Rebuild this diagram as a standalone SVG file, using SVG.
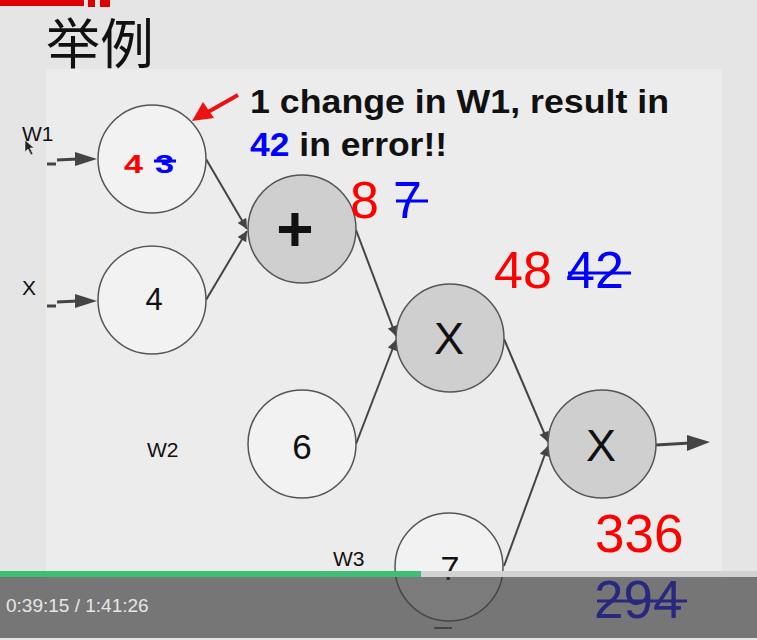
<svg xmlns="http://www.w3.org/2000/svg" width="757" height="640" viewBox="0 0 757 640">
  <defs>
    <style>
      .sans { font-family: "Liberation Sans", Arial, sans-serif; }
      .in { fill: #f2f2f2; stroke: #555; stroke-width: 1.5; }
      .op { fill: #cfcfcf; stroke: #555; stroke-width: 1.5; }
      .edge { stroke: #444; stroke-width: 2; fill: none; marker-end: url(#ah); }
      .lbl { font-family: "Liberation Sans", Arial, sans-serif; font-size: 21px; fill: #111; }
      .red { fill: #ff0000; }
      .blue { fill: #0000ff; }
      .strike { stroke: #0000ff; stroke-width: 3; }
    </style>
    <marker id="ah" viewBox="0 0 10 10" refX="10" refY="5" markerWidth="6" markerHeight="5" markerUnits="strokeWidth" orient="auto">
      <path d="M0,0 L10,5 L0,10 Z" fill="#444"/>
    </marker>
  </defs>

  <!-- background -->
  <rect x="0" y="0" width="757" height="640" fill="#e5e5e5"/>
  <rect x="46" y="69" width="676" height="510" fill="#ececec"/>
  <rect x="0" y="0" width="84" height="6" fill="#dd0000"/>
  <rect x="88" y="0" width="7" height="7" fill="#dd0000"/>
  <rect x="100" y="0" width="10" height="7" fill="#dd0000"/>

  <!-- title -->
  <text x="46" y="64" font-family="'Noto Sans CJK SC', sans-serif" font-size="54" font-weight="400" fill="#111">举例</text>

  <!-- labels -->
  <text class="lbl" x="22" y="141">W1</text>
  <text class="lbl" x="22" y="295">X</text>
  <text class="lbl" x="147" y="457">W2</text>
  <text class="lbl" x="333" y="566">W3</text>

  <!-- input arrows -->
  <g id="in-arrows" fill="#444" stroke="#444">
    <line x1="47" y1="164" x2="56" y2="164" stroke-width="3"/>
    <line x1="57" y1="160" x2="78" y2="159" stroke-width="3"/>
    <polygon points="75,152 97,159 75,166" stroke="none"/>
    <line x1="47" y1="306" x2="56" y2="306" stroke-width="3"/>
    <line x1="57" y1="302" x2="78" y2="301" stroke-width="3"/>
    <polygon points="75,294 97,301 75,308" stroke="none"/>
  </g>

  <!-- connectors -->
  <g id="connectors">
    <line class="edge" x1="206" y1="159" x2="247" y2="229"/>
    <line class="edge" x1="206" y1="300" x2="247" y2="231"/>
    <line class="edge" x1="356" y1="230" x2="396" y2="336"/>
    <line class="edge" x1="356" y1="444" x2="396" y2="340"/>
    <line class="edge" x1="504" y1="339" x2="548" y2="442"/>
    <line class="edge" x1="504" y1="566" x2="548" y2="446"/>
    <line x1="656" y1="445" x2="690" y2="443" stroke="#444" stroke-width="3"/>
    <polygon points="687,435 710,442 687,451" fill="#444"/>
  </g>

  <!-- nodes -->
  <g id="node-w1">
    <circle class="in" cx="152" cy="159" r="54"/>
    <text class="sans red" x="124" y="173" font-size="25" font-weight="bold" textLength="19" lengthAdjust="spacingAndGlyphs">4</text>
    <text class="sans blue" x="155" y="173" font-size="25" font-weight="bold" textLength="19" lengthAdjust="spacingAndGlyphs">3</text>
    <line class="strike" x1="154" y1="161" x2="176" y2="161" stroke-width="2.5"/>
  </g>
  <g id="node-x">
    <circle class="in" cx="152" cy="300" r="54"/>
    <text class="sans" x="154" y="310" font-size="31" text-anchor="middle" fill="#111">4</text>
  </g>
  <g id="node-plus">
    <circle class="op" cx="302" cy="229" r="54"/>
    <text class="sans" x="295" y="251" font-size="64" font-weight="bold" text-anchor="middle" fill="#111">+</text>
  </g>
  <g id="node-mul1">
    <circle class="op" cx="450" cy="338" r="54"/>
    <text class="sans" x="449" y="354" font-size="45" text-anchor="middle" fill="#111">X</text>
  </g>
  <g id="node-w2">
    <circle class="in" cx="302" cy="444" r="54"/>
    <text class="sans" x="302" y="459" font-size="35" text-anchor="middle" fill="#111">6</text>
  </g>
  <g id="node-mul2">
    <circle class="op" cx="602" cy="444" r="54"/>
    <text class="sans" x="601" y="461" font-size="45" text-anchor="middle" fill="#111">X</text>
  </g>
  <g id="node-w3">
    <circle class="in" cx="449" cy="567" r="54"/>
    <text class="sans" x="450" y="580" font-size="34" text-anchor="middle" fill="#111">7</text>
    <line x1="434" y1="628" x2="452" y2="628" stroke="#555" stroke-width="2"/>
  </g>

  <!-- annotation -->
  <g id="annotation">
    <line x1="238" y1="95" x2="208" y2="112" stroke="#ee1111" stroke-width="4"/>
    <polygon points="192,121 203,102 214,118" fill="#ee1111"/>
    <text class="sans" x="250" y="113" font-size="33" font-weight="bold" fill="#111" textLength="419" lengthAdjust="spacingAndGlyphs">1 change in W1, result in</text>
    <text class="sans" x="250" y="156" font-size="33" font-weight="bold" fill="#111" textLength="197" lengthAdjust="spacingAndGlyphs"><tspan class="blue">42</tspan> in error!!</text>
  </g>

  <!-- values -->
  <g id="values">
    <text class="sans red" x="350" y="218" font-size="52">8</text>
    <text class="sans blue" x="393" y="218" font-size="52">7</text>
    <line class="strike" x1="396" y1="201" x2="428" y2="201"/>
    <text class="sans red" x="494" y="288" font-size="52">48</text>
    <text class="sans blue" x="566" y="288" font-size="52">42</text>
    <line class="strike" x1="568" y1="273" x2="631" y2="273"/>
    <text class="sans red" x="595" y="552" font-size="53">336</text>
    <text class="sans blue" x="594" y="618" font-size="53">294</text>
    <line class="strike" x1="597" y1="601" x2="687" y2="601"/>
  </g>

  <!-- cursor -->
  <path d="M25,140 L25,152 L28,149 L31,155 L33,154 L30,148 L34,148 Z" fill="#222" stroke="#eee" stroke-width="0.6"/>

  <!-- video player overlay -->
  <rect x="0" y="571" width="757" height="6" fill="#d2d2d2"/>
  <rect x="0" y="571" width="421" height="6" fill="#3fbf74"/>
  <rect x="0" y="577" width="757" height="61" fill="#3c3c3c" fill-opacity="0.66"/>
  <text class="sans" x="6" y="612" font-size="19" fill="#e6e6e6">0:39:15 / 1:41:26</text>
</svg>
